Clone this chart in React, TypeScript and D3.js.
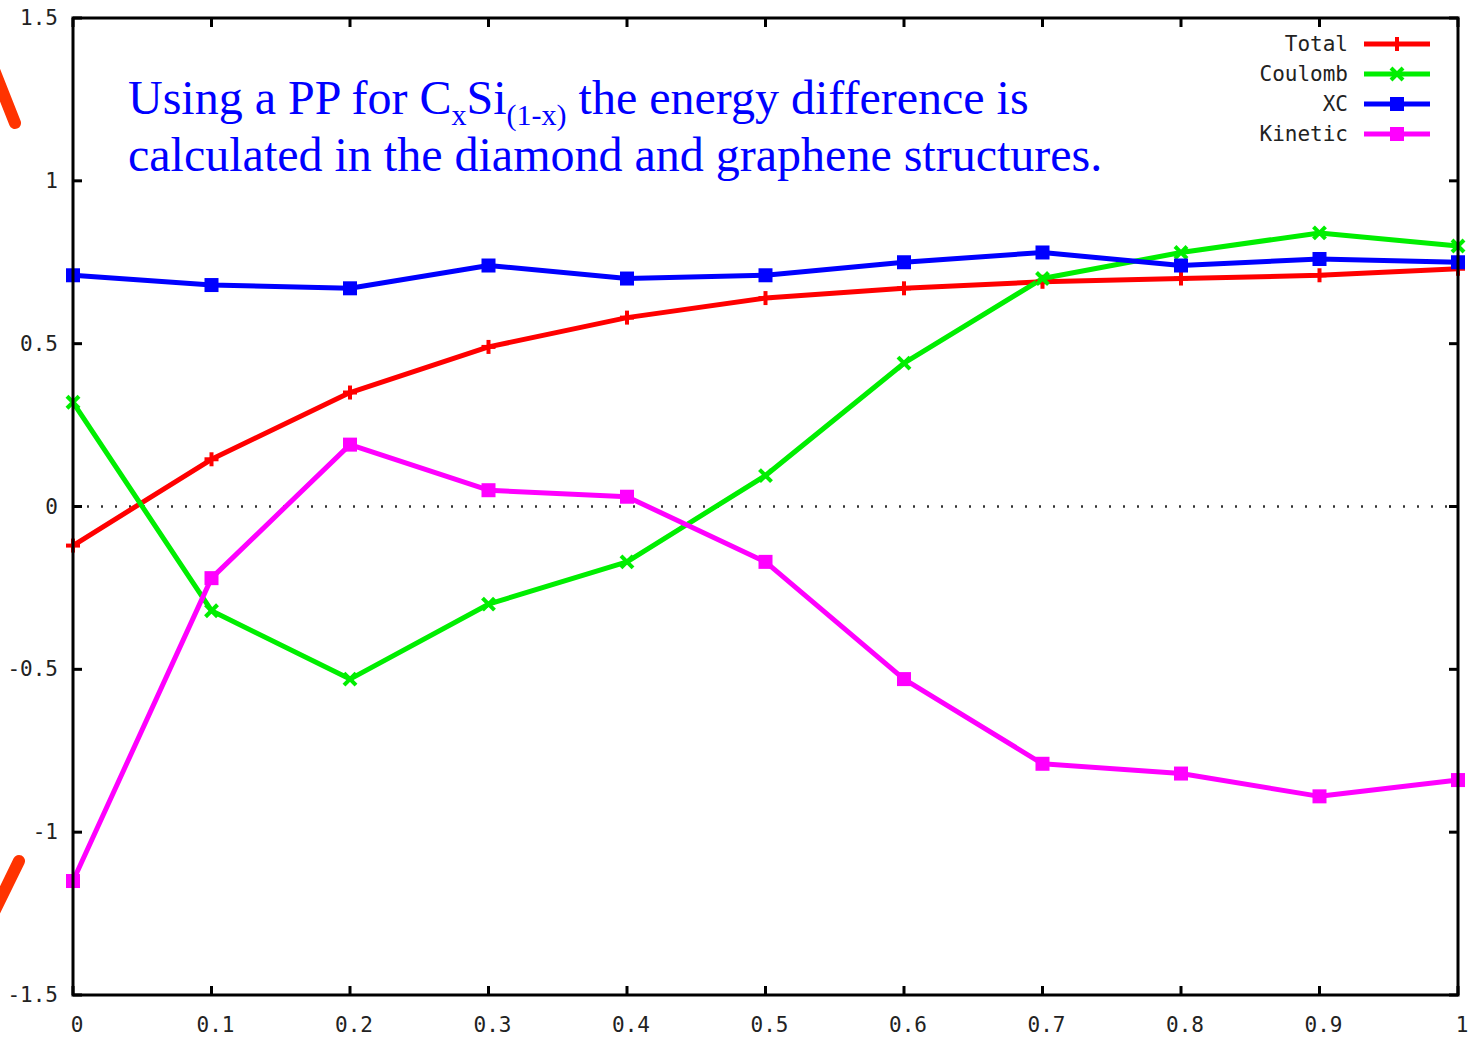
import React from "react";
import * as d3 from "d3";

// Composition x in C_xSi_(1-x)
const xValues = [0, 0.1, 0.2, 0.3, 0.4, 0.5, 0.6, 0.7, 0.8, 0.9, 1.0];

// Energy difference components
const totalValues = [-0.12, 0.145, 0.35, 0.49, 0.58, 0.64, 0.67, 0.69, 0.70, 0.71, 0.73];
const coulombValues = [0.32, -0.32, -0.53, -0.30, -0.17, 0.095, 0.44, 0.70, 0.78, 0.84, 0.80];
const xcValues = [0.71, 0.68, 0.67, 0.74, 0.70, 0.71, 0.75, 0.78, 0.74, 0.76, 0.75];
const kineticValues = [-1.15, -0.22, 0.19, 0.05, 0.03, -0.17, -0.53, -0.79, -0.82, -0.89, -0.84];

const seriesNames = ["Total", "Coulomb", "XC", "Kinetic"];
const seriesColors = ["#ff0000", "#00ee00", "#0000ff", "#ff00ff"];
const seriesMarkers = ["plus", "cross", "square", "square"];

const xTicks = [0, 0.1, 0.2, 0.3, 0.4, 0.5, 0.6, 0.7, 0.8, 0.9, 1];
const yTicks = [-1.5, -1, -0.5, 0, 0.5, 1, 1.5];

const W = 1482;
const H = 1042;
const left = 73;
const right = 1458;
const top = 18;
const bottom = 995;

function Marker({ kind, x, y, color }: { kind: string; x: number; y: number; color: string }) {
  if (kind === "square") {
    return <rect x={x - 7} y={y - 7} width={14} height={14} fill={color} />;
  }
  if (kind === "plus") {
    return (
      <g stroke={color} strokeWidth={4}>
        <line x1={x - 7} y1={y} x2={x + 7} y2={y} />
        <line x1={x} y1={y - 7} x2={x} y2={y + 7} />
      </g>
    );
  }
  return (
    <g stroke={color} strokeWidth={4}>
      <line x1={x - 6} y1={y - 6} x2={x + 6} y2={y + 6} />
      <line x1={x - 6} y1={y + 6} x2={x + 6} y2={y - 6} />
    </g>
  );
}

export default function App() {
  const xScale = d3.scaleLinear().domain([0, 1]).range([left, right]);
  const yScale = d3.scaleLinear().domain([-1.5, 1.5]).range([bottom, top]);

  const allValues = [totalValues, coulombValues, xcValues, kineticValues];
  const line = d3
    .line<number>()
    .x((_, i) => xScale(xValues[i]))
    .y((d) => yScale(d));

  const tickFont = "'DejaVu Sans Mono', monospace";
  const legendRows = [44, 74, 104, 134];

  return (
    <svg
      width={W}
      height={H}
      style={{ position: "absolute", left: 0, top: 0, display: "block", background: "#fff" }}
    >
      {/* zero line */}
      <line
        x1={left}
        x2={right}
        y1={yScale(0)}
        y2={yScale(0)}
        stroke="#333"
        strokeWidth={2.5}
        strokeDasharray="2 12"
      />

      {/* series lines */}
      {allValues.map((vals, s) => (
        <path
          key={seriesNames[s]}
          d={line(vals) || ""}
          fill="none"
          stroke={seriesColors[s]}
          strokeWidth={5}
          strokeLinejoin="round"
        />
      ))}
      {allValues.map((vals, s) =>
        vals.map((v, i) => (
          <Marker
            key={`${s}-${i}`}
            kind={seriesMarkers[s]}
            x={xScale(xValues[i])}
            y={yScale(v)}
            color={seriesColors[s]}
          />
        ))
      )}

      {/* frame */}
      <rect
        x={left}
        y={top}
        width={right - left}
        height={bottom - top}
        fill="none"
        stroke="#000"
        strokeWidth={3}
      />

      {/* x ticks (bottom and top) */}
      {xTicks.map((t) => (
        <g key={`xt${t}`}>
          <line x1={xScale(t)} x2={xScale(t)} y1={bottom} y2={bottom - 9} stroke="#000" strokeWidth={3} />
          <line x1={xScale(t)} x2={xScale(t)} y1={top} y2={top + 9} stroke="#000" strokeWidth={3} />
          <text
            x={xScale(t) + 4}
            y={1032}
            textAnchor="middle"
            fontFamily={tickFont}
            fontSize={21}
            fill="#222"
          >
            {String(t)}
          </text>
        </g>
      ))}

      {/* y ticks (left and right) */}
      {yTicks.map((t) => (
        <g key={`yt${t}`}>
          <line x1={left} x2={left + 9} y1={yScale(t)} y2={yScale(t)} stroke="#000" strokeWidth={3} />
          <line x1={right} x2={right - 9} y1={yScale(t)} y2={yScale(t)} stroke="#000" strokeWidth={3} />
          <text
            x={58}
            y={yScale(t) + 7}
            textAnchor="end"
            fontFamily={tickFont}
            fontSize={21}
            fill="#222"
          >
            {String(t)}
          </text>
        </g>
      ))}

      {/* legend */}
      {seriesNames.map((name, s) => (
        <g key={`lg${name}`}>
          <text
            x={1348}
            y={legendRows[s] + 7}
            textAnchor="end"
            fontFamily={tickFont}
            fontSize={21}
            fill="#222"
          >
            {name}
          </text>
          <line
            x1={1364}
            x2={1430}
            y1={legendRows[s]}
            y2={legendRows[s]}
            stroke={seriesColors[s]}
            strokeWidth={5}
          />
          <Marker kind={seriesMarkers[s]} x={1397} y={legendRows[s]} color={seriesColors[s]} />
        </g>
      ))}

      {/* annotation */}
      <text fontFamily="'Liberation Serif', 'Times New Roman', serif" fontSize={48} fill="#0000ff">
        <tspan x={128} y={114}>
          Using a PP for C
        </tspan>
        <tspan fontSize={30} dy={11}>x</tspan>
        <tspan dy={-11}>Si</tspan>
        <tspan fontSize={30} dy={11}>(1-x)</tspan>
        <tspan dy={-11}> the energy difference is</tspan>
      </text>
      <text
        x={128}
        y={171}
        fontFamily="'Liberation Serif', 'Times New Roman', serif"
        fontSize={48}
        fill="#0000ff"
      >
        calculated in the diamond and graphene structures.
      </text>

      {/* slide decoration strokes */}
      <g stroke="#ff3300" strokeWidth={12} strokeLinecap="round" fill="none">
        <line x1={-6} y1={70} x2={15} y2={123} />
        <line x1={19} y1={861} x2={-6} y2={912} />
      </g>
    </svg>
  );
}
